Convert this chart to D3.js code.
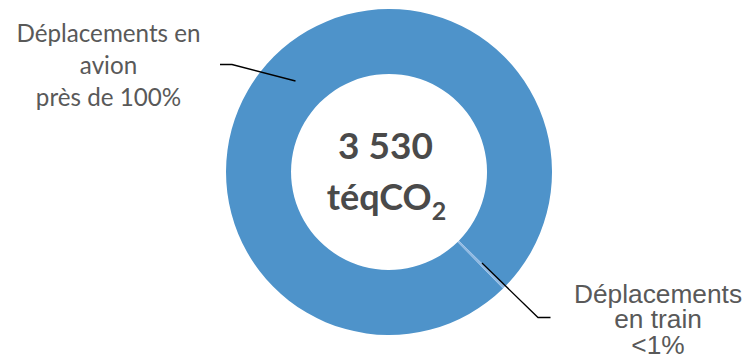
<!DOCTYPE html>
<html>
<head>
<meta charset="utf-8">
<script src="https://cdn.jsdelivr.net/npm/d3@7"></script>
<style>
  html, body { margin: 0; padding: 0; background: #fff; }
  svg { display: block; }
</style>
</head>
<body>
<svg id="chart" width="748" height="359"></svg>
<script>
// Emission split by travel mode (share of total, %)
const categories = ["Déplacements en avion", "Déplacements en train"];
const shares = [99.7, 0.3];
const sliceColors = ["#4E93CA", "#8FB9E3"];
const labelLines = [
  ["Déplacements en", "avion", "près de 100%"],
  ["Déplacements", "en train", "<1%"]
];
const totalLabel = "3 530";
const unitLabel = "téqCO";
const unitSub = "2";

const svg = d3.select("#chart");
const cx = 389, cy = 172;
const rOuter = 163, rInner = 98;

const startDeg = 135.6;
const pie = d3.pie().sort(null).value(d => d)
  .startAngle(startDeg * Math.PI / 180)
  .endAngle((startDeg + 360) * Math.PI / 180);
const arcs = pie(shares);
const arc = d3.arc().innerRadius(rInner).outerRadius(rOuter);

const g = svg.append("g").attr("transform", `translate(${cx},${cy})`);
g.selectAll("path.slice")
  .data(arcs)
  .join("path")
  .attr("class", "slice")
  .attr("d", arc)
  .attr("fill", (d, i) => sliceColors[i]);

// Leader lines: elbow from label to the ring
const leaders = [
  [[220, 64.5], [232, 64.5], [295.5, 81]],
  [[550.5, 317.5], [538, 317.5], [482, 263]]
];
svg.selectAll("path.leader")
  .data(leaders)
  .join("path")
  .attr("class", "leader")
  .attr("d", d3.line())
  .attr("fill", "none")
  .attr("stroke", "#000")
  .attr("stroke-width", 1.3);

// Category labels
const labelPos = [
  { x: 108.5, y: 41.5, dy: 32, font: "Lato, 'Open Sans', sans-serif", size: 24.2 },
  { x: 658, y: 302.5, dy: 25.5, font: "'Liberation Sans', Arial, sans-serif", size: 26.3 }
];
labelLines.forEach((lines, i) => {
  const p = labelPos[i];
  const t = svg.append("text")
    .attr("text-anchor", "middle")
    .attr("font-family", p.font)
    .attr("font-size", p.size)
    .attr("fill", "#595959");
  lines.forEach((s, j) => {
    t.append("tspan").attr("x", p.x).attr("y", p.y + j * p.dy).text(s);
  });
});

// Centre total
svg.append("text")
  .attr("x", 385.5).attr("y", 159.3)
  .attr("text-anchor", "middle")
  .attr("font-family", "Lato, sans-serif")
  .attr("font-weight", 700)
  .attr("font-size", 37)
  .attr("fill", "#4A4A4A")
  .text(totalLabel);

const unit = svg.append("text")
  .attr("x", 386.5).attr("y", 209.5)
  .attr("text-anchor", "middle")
  .attr("font-family", "Lato, sans-serif")
  .attr("font-weight", 700)
  .attr("font-size", 36)
  .attr("fill", "#4A4A4A");
unit.append("tspan").text(unitLabel);
unit.append("tspan").attr("font-size", 25).attr("dy", 10).text(unitSub);
</script>
</body>
</html>
